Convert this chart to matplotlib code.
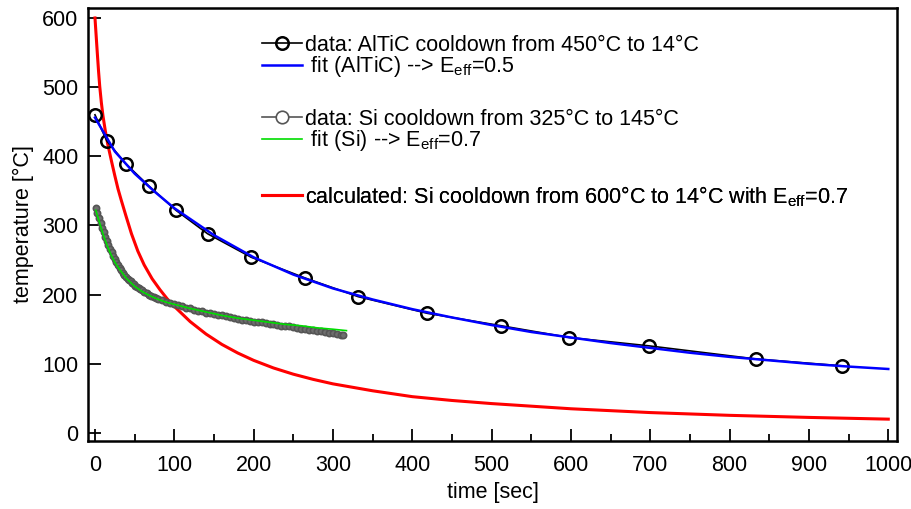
import matplotlib
matplotlib.use('Agg')
import matplotlib.pyplot as plt
from matplotlib.lines import Line2D

plt.rcParams['font.family'] = ['Liberation Sans', 'DejaVu Sans']
plt.rcParams['mathtext.fontset'] = 'custom'
plt.rcParams['mathtext.rm'] = 'Liberation Sans'
plt.rcParams['mathtext.it'] = 'Liberation Sans:italic'
plt.rcParams['font.size'] = 15.5

# AlTiC 冷却数据 (450°C -> 14°C)
altic_t = [0, 15, 39, 68, 102, 142, 197, 265, 332, 419, 512, 598, 698, 833, 942]
altic_T = [460, 422, 389, 357, 322, 288, 254, 224, 197, 173, 155, 138, 126, 107, 97]

# AlTiC 拟合曲线
altic_fit_t = [0, 25, 50, 75, 100, 150, 200, 250, 300, 350, 400, 450, 500, 550,
               600, 650, 700, 750, 800, 850, 900, 950, 1000]
altic_fit_T = [456, 407, 375, 349, 325, 286, 254, 229, 209, 193, 179, 167, 156, 146,
               138, 130, 123, 116, 110, 105, 100, 96, 92.5]

# Si 冷却数据 (325°C -> 145°C)
si_t = [1, 3, 5, 7, 9, 11, 13, 15, 17, 19, 21, 23, 25, 27, 29, 31, 33, 35, 37, 39,
        41, 43, 45, 47, 49, 51, 53, 55, 57, 59, 62, 65, 68, 71, 74, 77, 80, 85, 90, 95,
        100, 105, 110, 115, 120, 125, 130, 135, 140, 145, 150, 155, 160, 165, 170, 175,
        180, 185, 190, 195, 200, 205, 210, 215, 220, 225, 230, 235, 240, 245, 250, 255,
        260, 265, 270, 275, 280, 285, 290, 295, 300, 305, 310, 313]
si_T = [325, 318, 311, 304, 297, 290, 284, 278, 272, 266, 261, 256, 251, 247, 243, 239,
        235, 232, 229, 226, 223, 221, 219, 217, 215, 213, 211, 209, 208, 206, 204, 202,
        200, 198, 197, 195, 194, 192, 190, 188, 186, 185, 183, 181, 180, 178, 177, 176,
        174, 173, 172, 171, 170, 169, 168, 166, 165, 164, 163, 162, 161, 161, 160, 159,
        158, 157, 156, 155, 155, 154, 153, 152, 151, 150, 149, 149, 148, 147, 146, 145,
        144, 143, 142, 141]

# Si 拟合曲线
si_fit_t = [1, 5, 10, 15, 20, 25, 30, 40, 50, 60, 70, 80, 90, 100, 120, 140, 160, 180,
            200, 220, 240, 260, 280, 300, 317]
si_fit_T = [322, 307, 288, 272, 258, 247, 238, 223, 212, 204, 198, 193, 189, 186, 180,
            175, 170, 166, 163, 160, 157, 155, 152, 150, 148]

# 计算曲线 (600°C -> 14°C, Eeff=0.7)
calc_t = [0, 1.5, 3, 4.5, 6, 8, 10, 13, 16, 21, 25, 29, 33, 39, 46, 54, 62, 72, 82, 91,
          100, 120, 140, 160, 180, 200, 225, 250, 275, 300, 350, 400, 450, 500, 600,
          700, 800, 900, 1000]
calc_T = [600, 574, 548, 523, 501, 478, 459, 437, 418, 392, 372, 353, 337, 314, 288,
          263, 243, 223, 207, 194, 183, 161, 143, 128, 115.6, 105, 94, 85, 77.5, 71,
          61, 52.5, 47, 42.5, 35, 29.5, 25.5, 22.5, 20]

fig = plt.figure(figsize=(9.11, 5.09), dpi=100)
ax = fig.add_axes([88 / 911, 1 - 441 / 509, 809 / 911, 433 / 509])

ax.plot(calc_t, calc_T, color='#ff0000', lw=2.2, zorder=2)
ax.plot(si_t, si_T, color='#555555', lw=1.5, marker='o', ms=4.5, mfc='#6e6e6e',
        mec='#555555', mew=1.2, zorder=3)
ax.plot(si_fit_t, si_fit_T, color='#00dd00', lw=1.2, zorder=4)
ax.plot(altic_t, altic_T, color='black', lw=1.2, marker='o', ms=9, mfc='none',
        mec='black', mew=1.8, zorder=5)
ax.plot(altic_fit_t, altic_fit_T, color='#0000ff', lw=1.8, zorder=6)

ax.set_xlim(-8.8, 1011)
ax.set_ylim(-11.6, 614.4)
ax.set_xticks(range(0, 1001, 100))
ax.set_xticks(range(50, 1000, 100), minor=True)
ax.set_yticks(range(0, 601, 100))
ax.tick_params(direction='in', length=9, width=1.3, top=False, right=False)
ax.tick_params(axis='x', pad=10)
ax.tick_params(axis='y', pad=7)
ax.tick_params(which='minor', direction='in', length=5, width=1.3)
for s in ax.spines.values():
    s.set_linewidth(1.8)
ax.set_xlabel('time [sec]')
ax.set_ylabel('temperature [°C]')
ax.xaxis.set_label_coords(0.5, -0.095)
ax.yaxis.set_label_coords(-0.067, 0.5)

# 图例分三组
h1 = [Line2D([], [], color='black', lw=1.2, marker='o', ms=9, mfc='none', mew=1.8),
      Line2D([], [], color='#0000ff', lw=1.8)]
l1 = ['data: AlTiC cooldown from 450°C to 14°C', r' fit (AlTiC) --> E$_{\mathrm{eff}}$=0.5']
h2 = [Line2D([], [], color='#555555', lw=1.2, marker='o', ms=9, mfc='white', mec='#555555', mew=1.2),
      Line2D([], [], color='#00dd00', lw=1.2)]
l2 = ['data: Si cooldown from 325°C to 145°C', r' fit (Si) --> E$_{\mathrm{eff}}$=0.7']
h3 = [Line2D([], [], color='#ff0000', lw=2.2)]
l3 = [r'calculated: Si cooldown from 600°C to 14°C with E$_{\mathrm{eff}}$=0.7']

kw = dict(frameon=False, borderpad=0, borderaxespad=0, handlelength=1.86,
          handletextpad=0.15, labelspacing=-0.07, loc='upper left')
for h, l, y in [(h1, l1, 35), (h2, l2, 109), (h3, l3, 184)]:
    leg = ax.legend(h, l, bbox_to_anchor=(262 / 911, 1 - y / 509),
                    bbox_transform=fig.transFigure, **kw)
    ax.add_artist(leg)

fig.savefig('out.png', dpi=100)
